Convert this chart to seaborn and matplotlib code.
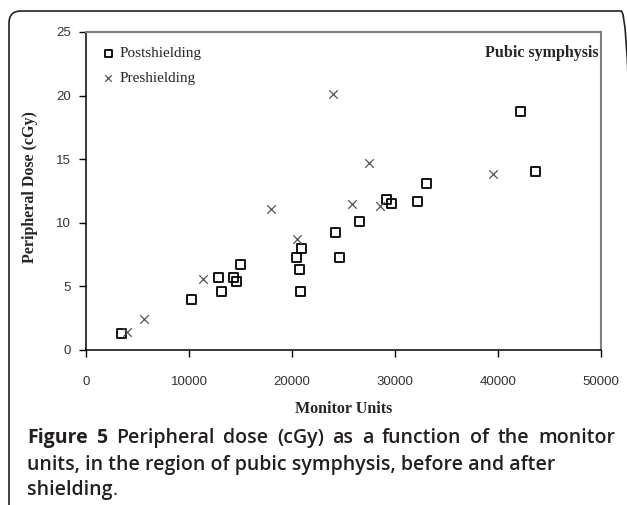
import pandas as pd
import matplotlib.pyplot as plt
import seaborn as sns
from matplotlib.patches import FancyBboxPatch

# monitor units and peripheral dose (cGy), pubic symphysis
post_mu = [3400, 10200, 12900, 13200, 14300, 14600, 15000, 20400, 20700, 20900,
           20800, 24200, 24600, 26600, 29200, 29700, 32200, 33100, 42200, 43600]
post_dose = [1.3, 4.0, 5.7, 4.6, 5.7, 5.4, 6.7, 7.3, 6.3, 8.0,
             4.6, 9.25, 7.3, 10.1, 11.85, 11.55, 11.65, 13.1, 18.75, 14.0]

pre_mu = [4000, 5600, 11400, 18000, 20500, 24000, 25800, 27500, 28500, 39500]
pre_dose = [1.4, 2.4, 5.55, 11.1, 8.7, 20.1, 11.45, 14.7, 11.35, 13.85]

post = pd.DataFrame({"mu": post_mu, "dose": post_dose})
pre = pd.DataFrame({"mu": pre_mu, "dose": pre_dose})

sns.set_style("ticks")
plt.rcParams["font.family"] = ["Liberation Serif", "DejaVu Serif"]

fig = plt.figure(figsize=(6.27, 5.05), dpi=100)
ax = fig.add_axes([86/627, 155/505, 515/627, 318/505])

sns.scatterplot(x="mu", y="dose", data=post, ax=ax, marker="s", s=42,
                facecolor="none", edgecolor="black", linewidth=1.3,
                label="Postshielding")
sns.scatterplot(x="mu", y="dose", data=pre, ax=ax, marker="x", s=38,
                color="#555555", linewidth=0.9, label="Preshielding")

ax.set_xlim(0, 50000)
ax.set_ylim(0, 25)
ax.set_xticks(range(0, 50001, 10000))
ax.set_yticks(range(0, 26, 5))

for lab in ax.get_xticklabels() + ax.get_yticklabels():
    lab.set_family(["Liberation Sans", "DejaVu Sans"])
    lab.set_fontsize(9.5)
    lab.set_color("#333333")
ax.tick_params(axis="x", length=5, width=1, pad=14, color="black")
ax.tick_params(axis="y", length=5, width=1, pad=6, color="black")

for side in ["left", "bottom"]:
    ax.spines[side].set_color("black")
    ax.spines[side].set_linewidth(1.1)
for side in ["top", "right"]:
    ax.spines[side].set_visible(True)
    ax.spines[side].set_color("#7f7f7f")
    ax.spines[side].set_linewidth(1.5)

ax.set_xlabel("Monitor Units", fontsize=11.5, fontweight="bold")
ax.set_ylabel("Peripheral Dose (cGy)", fontsize=11.5, fontweight="bold")
ax.xaxis.set_label_coords(0.5, -0.160)
ax.yaxis.set_label_coords(-0.093, 0.513)

ax.text(0.995, 0.935, "Pubic symphysis", transform=ax.transAxes, ha="right",
        va="center", fontsize=11.5, fontweight="bold")

ax.legend(loc="upper left", frameon=False, fontsize=11, markerscale=0.75,
          handletextpad=0.25, handlelength=1.0, labelspacing=0.7,
          borderaxespad=0.55, bbox_to_anchor=(0.0, 1.0))

# caption, first line justified between x=27 and x=615 px
cap = ["Open Sans", "DejaVu Sans"]
cap_color = "#231f20"
line1 = [("Figure", "bold"), ("5", "bold"), ("Peripheral", "semibold"),
         ("dose", "semibold"), ("(cGy)", "semibold"), ("as", "semibold"),
         ("a", "semibold"), ("function", "semibold"), ("of", "semibold"),
         ("the", "semibold"), ("monitor", "semibold")]
renderer = fig.canvas.get_renderer()
words = [fig.text(0, 1 - 438/505, w, family=cap, fontsize=14, fontweight=wt,
                  va="center", color=cap_color) for w, wt in line1]
widths = [t.get_window_extent(renderer).width for t in words]
gap = (615 - 27 - sum(widths)) / (len(words) - 1)
x = 27
for t, w in zip(words, widths):
    t.set_x(x / 627)
    x += w + gap

fig.text(27/627, 1 - 465/505, "units, in the region of pubic symphysis, before and after",
         family=cap, fontsize=14, fontweight="semibold", va="center", color=cap_color)
t3 = fig.text(27/627, 1 - 490/505, "shielding", family=cap, fontsize=14,
              fontweight="semibold", va="center", color=cap_color)
w3 = t3.get_window_extent(renderer).width
fig.text((27 + w3) / 627, 1 - 490/505, ".", family=cap, fontsize=14,
         fontweight="normal", va="center", color=cap_color)

# rounded frame around the figure panel (right side runs off the image)
frame = FancyBboxPatch((9, -15), 624, 509, boxstyle="round,pad=0,rounding_size=12",
                       transform=None, facecolor="none", edgecolor="#222222",
                       linewidth=1.2, clip_on=False)
fig.patches.append(frame)

fig.savefig("out.png", dpi=100)
